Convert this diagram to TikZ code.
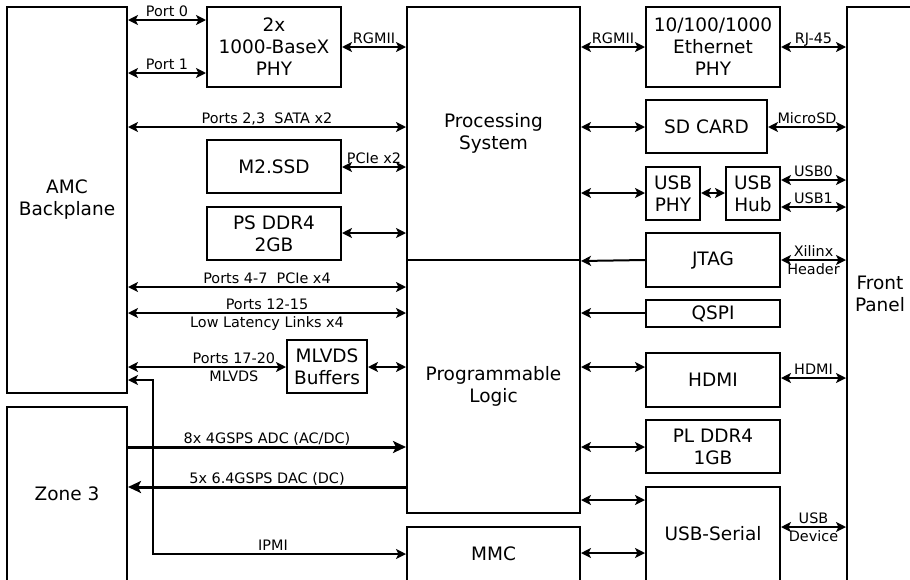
\documentclass[tikz,border=0pt]{standalone}
\usepackage{fontspec}
\setmainfont{DejaVu Sans}
\usetikzlibrary{arrows.meta}
\begin{document}
\begin{tikzpicture}[x=1pt,y=-1pt,
  blk/.style={draw, line width=2pt, inner sep=0pt, align=center, font=\fontsize{18.5}{22}\selectfont},
  bi/.style={line width=2pt, {Stealth[length=10pt,width=10pt,inset=2.5pt]}-{Stealth[length=10pt,width=10pt,inset=2.5pt]}},
  one/.style={line width=2pt, -{Stealth[length=10pt,width=10pt,inset=2.5pt]}},
  fat/.style={line width=3pt, -{Stealth[length=13pt,width=12pt,inset=3pt]}},
  lbl/.style={font=\fontsize{14.4}{16}\selectfont, inner sep=0pt, anchor=base},
  lblup/.style={lbl, yshift=3.5pt},
  lbldn/.style={lbl, yshift=-14pt}
]
\useasboundingbox (0,0) rectangle (910,579);
\clip (0,0) rectangle (910,579);
\fill[white] (0,0) rectangle (910,579);

% blocks
\node[blk, minimum width=120pt, minimum height=386pt] (amc) at (67,200) {AMC\\Backplane};
\node[blk, minimum width=120pt, minimum height=174pt] (zone) at (67,494) {Zone 3};
\node[blk, minimum width=134pt, minimum height=80pt] (phy2) at (274,47) {2x\\1000-BaseX\\PHY};
\node[blk, minimum width=134pt, minimum height=53pt] (m2) at (274,166.5) {M2.SSD};
\node[blk, minimum width=134pt, minimum height=53pt] (psddr) at (274,233.5) {PS DDR4\\2GB};
\node[blk, minimum width=80pt, minimum height=53pt] (mlvds) at (327,366.5) {MLVDS\\Buffers};
\node[blk, minimum width=173pt, minimum height=253pt] (ps) at (493.5,133.5) {Processing\\System};
\node[blk, minimum width=173pt, minimum height=253pt] (pl) at (493.5,386.5) {Programmable\\Logic};
\node[blk, minimum width=173pt, minimum height=54pt] (mmc) at (493.5,554) {MMC};
\node[blk, minimum width=134pt, minimum height=80pt] (eth) at (713,47) {10/100/1000\\Ethernet\\PHY};
\node[blk, minimum width=121pt, minimum height=53pt] (sd) at (706.5,126.5) {SD CARD};
\node[blk, minimum width=54pt, minimum height=53pt] (usbphy) at (673,193.5) {USB\\PHY};
\node[blk, minimum width=54pt, minimum height=53pt] (usbhub) at (753,193.5) {USB\\Hub};
\node[blk, minimum width=134pt, minimum height=54pt] (jtag) at (713,260) {JTAG};
\node[blk, minimum width=134pt, minimum height=27pt] (qspi) at (713,313.5) {QSPI};
\node[blk, minimum width=134pt, minimum height=54pt] (hdmi) at (713,380) {HDMI};
\node[blk, minimum width=134pt, minimum height=53pt] (plddr) at (713,446.5) {PL DDR4\\1GB};
\node[blk, minimum width=134pt, minimum height=94pt] (usbser) at (713,534) {USB-Serial};
\node[blk, minimum width=66pt, minimum height=574pt] (front) at (880,294) {Front\\Panel};

\coordinate (ipmic) at (153,380);

% left side connectors
\draw[bi] (amc.east |- 0,20) -- node[lblup] (l0) {Port 0} (phy2.west |- 0,20);
\draw[bi] (amc.east |- 0,73) -- node[lblup] (l1) {Port 1} (phy2.west |- 0,73);
\draw[bi] (phy2.east) -- node[lblup] (l2) {RGMII} (ps.west |- phy2.east);
\draw[bi] (amc.east |- 0,127) -- node[lblup] (l3) {Ports 2,3\ \ SATA x2} (ps.west |- 0,127);
\draw[bi] (m2.east |- 0,167) -- node[lblup] (l4) {PCIe x2} (ps.west |- 0,167);
\draw[bi] (psddr.east |- 0,233) -- (ps.west |- 0,233);
\draw[bi] (amc.east |- 0,287) -- node[lblup] (l5) {Ports 4-7\ \ PCIe x4} (pl.west |- 0,287);
\draw[bi] (amc.east |- 0,313) -- node[lblup] (l6) {Ports 12-15} node[lbldn] (l7) {Low Latency Links x4} (pl.west |- 0,313);
\draw[bi] (amc.east |- 0,367) -- node[lblup, pos=0.67] (l8) {Ports 17-20} node[lbldn, pos=0.67] (l9) {MLVDS} (mlvds.west |- 0,367);
\draw[bi] (mlvds.east |- 0,367) -- (pl.west |- 0,367);
\draw[bi] (amc.east |- ipmic) -- (ipmic) |- (mmc.west);
\node[lblup] (lipmi) at (273,554) {IPMI};
\draw[fat] (zone.east |- 0,447) -- node[lblup] (ladc) {8x 4GSPS ADC (AC/DC)} (pl.west |- 0,447);
\draw[fat] (pl.west |- 0,487) -- node[lblup] (ldac) {5x 6.4GSPS DAC (DC)} (zone.east |- 0,487);

% right side connectors
\draw[bi] (ps.east |- eth.west) -- node[lblup] (r1) {RGMII} (eth.west);
\draw[bi] (eth.east) -- node[lblup] (r2) {RJ-45} (front.west |- eth.east);
\draw[bi] (ps.east |- 0,127) -- (sd.west |- 0,127);
\draw[bi] (sd.east |- 0,127) -- node[lblup] (r3) {MicroSD} (front.west |- 0,127);
\draw[bi] (ps.east |- 0,193) -- (usbphy.west |- 0,193);
\draw[bi] (usbphy.east |- 0,193) -- (usbhub.west |- 0,193);
\draw[bi] (usbhub.east |- 0,180) -- node[lblup] (r4) {USB0} (front.west |- 0,180);
\draw[bi] (usbhub.east |- 0,207) -- node[lblup] (r5) {USB1} (front.west |- 0,207);
\draw[one] (jtag.west) -- (ps.south east);
\draw[bi] (jtag.east) -- node[lblup] (r6) {Xilinx} node[lbldn] (r7) {Header} (front.west |- jtag.east);
\draw[one] (qspi.west |- 0,313) -- (pl.east |- 0,313);
\draw[bi] (pl.east |- 0,367) -- (hdmi.west |- 0,367);
\draw[bi] (hdmi.east |- 0,378) -- node[lblup] (r8) {HDMI} (front.west |- 0,378);
\draw[bi] (pl.east |- 0,447) -- (plddr.west |- 0,447);
\draw[bi] (pl.east |- 0,500) -- (usbser.west |- 0,500);
\draw[bi] (mmc.east |- 0,553) -- (usbser.west |- 0,553);
\draw[bi] (usbser.east |- 0,527) -- node[lblup] (r9) {USB} node[lbldn] (r10) {Device} (front.west |- 0,527);
\end{tikzpicture}
\end{document}
